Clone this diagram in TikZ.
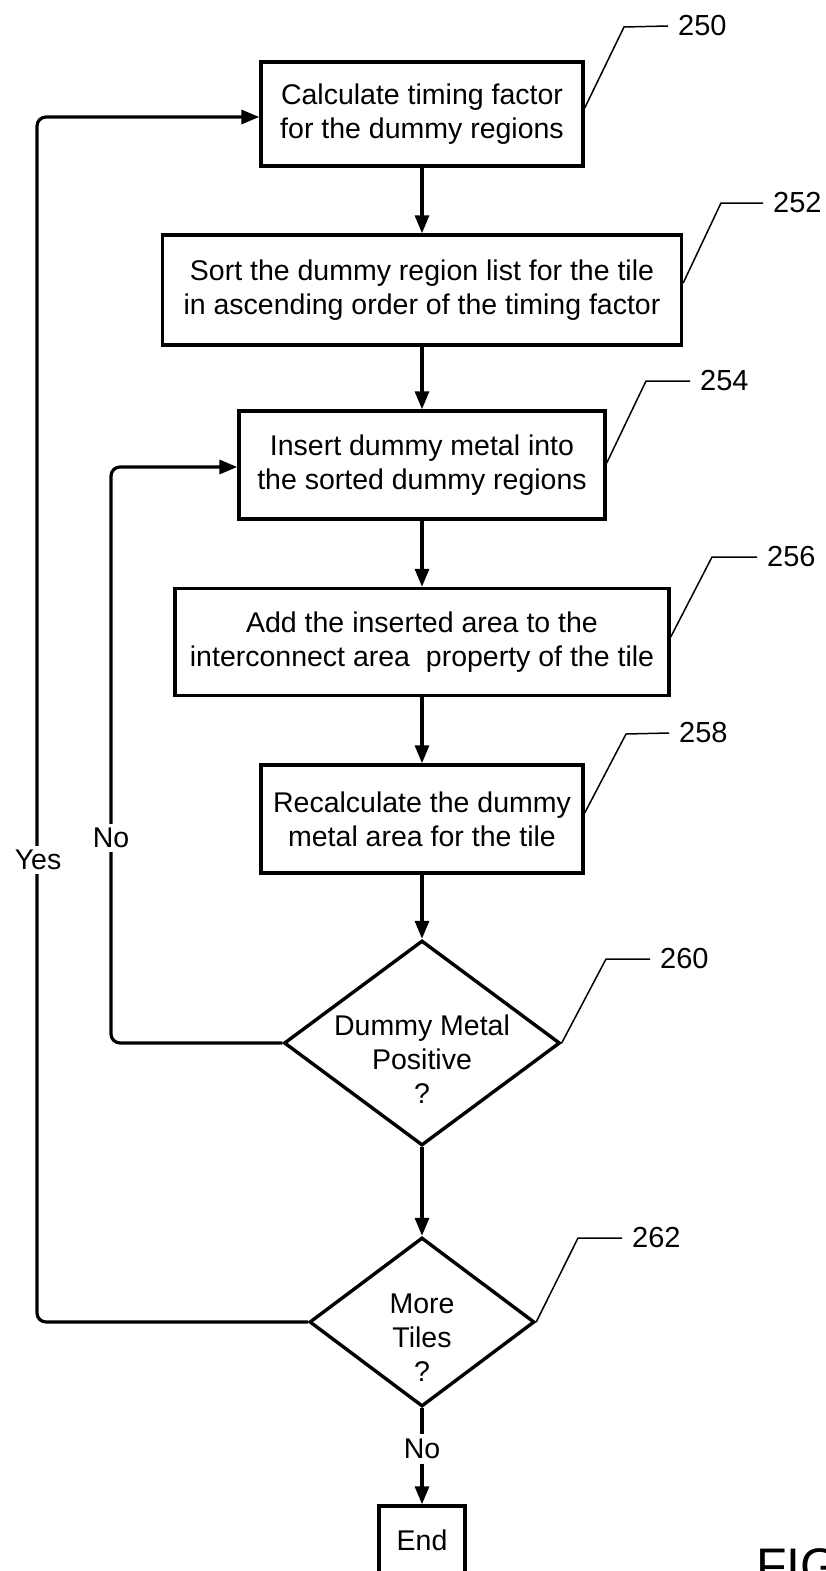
\documentclass[tikz,border=0pt]{standalone}
\usepackage{fontspec}
\setmainfont{Liberation Sans}
\usetikzlibrary{arrows.meta,shapes.geometric}

\begin{document}
\begin{tikzpicture}[x=1pt,y=-1pt,
  every node/.style={font=\fontsize{28.5}{34}\selectfont},
  procbox/.style={draw,line width=3.4pt,align=center,inner sep=0pt},
  decision/.style={draw,diamond,line width=3.4pt,inner sep=0pt},
  dtext/.style={align=center,inner sep=0pt,yshift=-16pt},
  flow/.style={line width=3.2pt,-{Triangle[length=18pt,width=14pt]}},
  plainflow/.style={line width=3.2pt},
  loopline/.style={line width=3.2pt,rounded corners=9pt,-{Triangle[length=18pt,width=14pt]}},
  leader/.style={line width=1.5pt},
  refnum/.style={anchor=west,inner ysep=0pt,inner xsep=10pt,font=\fontsize{29}{34}\selectfont},
  branch/.style={fill=white,inner sep=4pt},
]
\useasboundingbox (0,0) rectangle (825,1571);

% process steps
\node[procbox,minimum width=322,minimum height=104] (b250) at (422,114)
  {Calculate timing factor\\for the dummy regions};
\node[procbox,minimum width=519,minimum height=110] (b252) at (422,290)
  {Sort the dummy region list for the tile\\in ascending order of the timing factor};
\node[procbox,minimum width=366,minimum height=108] (b254) at (422,465)
  {Insert dummy metal into\\the sorted dummy regions};
\node[procbox,minimum width=494,minimum height=107] (b256) at (422,642)
  {Add the inserted area to the\\interconnect area\ \ property of the tile};
\node[procbox,minimum width=322,minimum height=108] (b258) at (422,819)
  {Recalculate the dummy\\metal area for the tile};

% decisions
\node[decision,minimum width=276,minimum height=205] (d260) at (422,1043) {};
\node[dtext] (t260) at (d260.center) {Dummy Metal\\Positive\\?};
\node[decision,minimum width=225,minimum height=169] (d262) at (422,1322) {};
\node[dtext] (t262) at (d262.center) {More\\Tiles\\?};

% end
\node[procbox,minimum width=86,minimum height=68] (bend) at (422,1540) {End};

% main flow
\draw[flow] (b250) -- (b252);
\draw[flow] (b252) -- (b254);
\draw[flow] (b254) -- (b256);
\draw[flow] (b256) -- (b258);
\draw[flow] (b258) -- (d260);
\draw[flow] (d260) -- (d262);
\node[branch,inner sep=5pt] (noend) at (422,1449) {No};
\draw[plainflow] (d262.south) -- (noend.north);
\draw[flow] (noend.south) -- (bend.north);

% loop back: more tiles
\coordinate (yestop) at (37,117);
\draw[loopline] (d262.west) -| (yestop) -- (yestop -| b250.west);
\node[branch] (yes) at (38,860) {Yes};

% loop back: dummy metal not positive
\coordinate (notop) at (111,467);
\draw[loopline] (d260.west) -| (notop) -- (notop -| b254.west);
\node[branch] (no) at (111,838) {No};

% reference numerals
\node[refnum] (n250) at (668,26) {250};
\draw[leader] (b250.east |- 0,108) -- (624,27) -- (n250.west);
\node[refnum] (n252) at (763,203) {252};
\draw[leader] (b252.east |- 0,283) -- (721,203) -- (n252.west);
\node[refnum] (n254) at (690,381) {254};
\draw[leader] (b254.east |- 0,463) -- (646,381) -- (n254.west);
\node[refnum] (n256) at (757,557) {256};
\draw[leader] (b256.east |- 0,637) -- (712,557) -- (n256.west);
\node[refnum] (n258) at (669,733) {258};
\draw[leader] (b258.east |- 0,813) -- (626,734) -- (n258.west);
\node[refnum] (n260) at (650,959) {260};
\draw[leader] (d260.east) -- (606,959) -- (n260.west);
\node[refnum] (n262) at (622,1238) {262};
\draw[leader] (d262.east) -- (578,1238) -- (n262.west);

% figure caption, running off the page edge
\node[anchor=base west,inner sep=0pt,font=\fontsize{50}{60}\selectfont] (fig) at (756,1583) {FIG};
\end{tikzpicture}
\end{document}
